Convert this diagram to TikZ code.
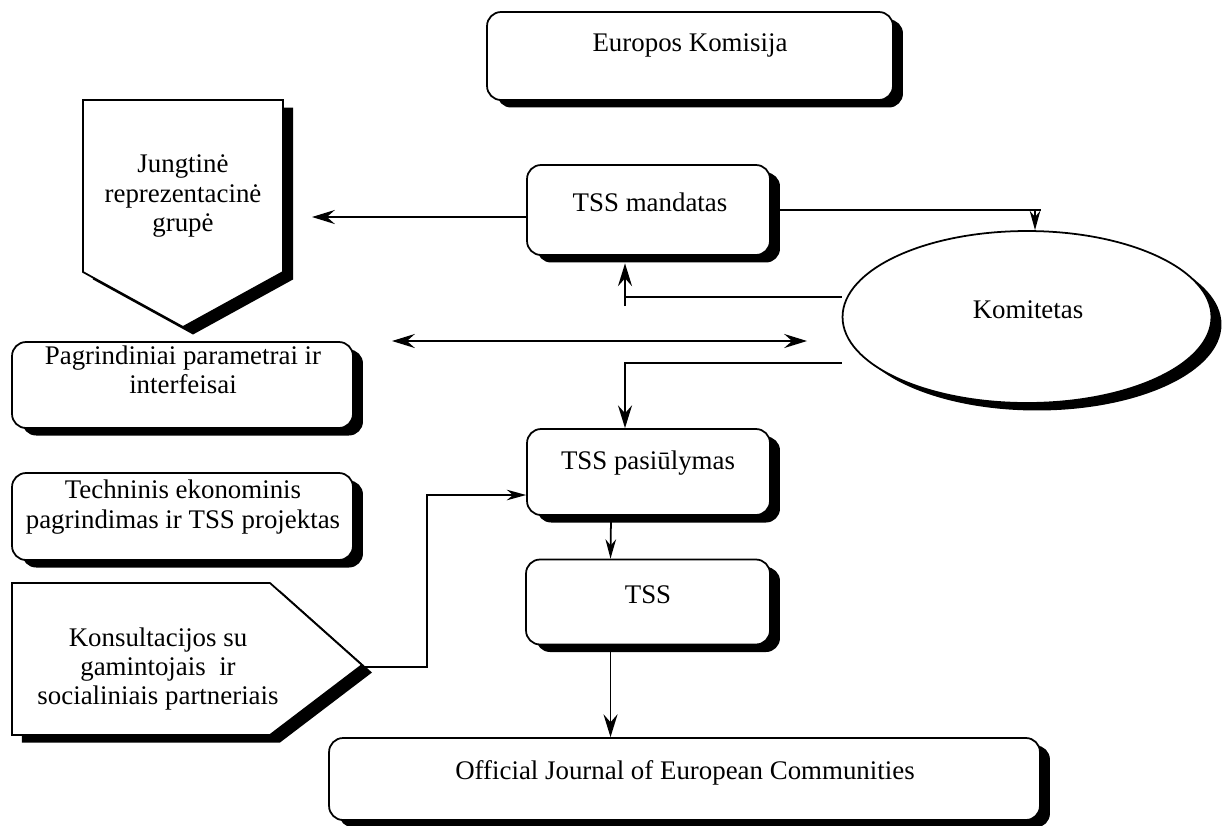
\documentclass[tikz,border=0pt]{standalone}
\usepackage{fontspec}
\setmainfont{Liberation Serif}
\usetikzlibrary{arrows.meta,shapes.geometric,shadows,calc}
\begin{document}
\begin{tikzpicture}[x=0.02cm,y=-0.02cm,line width=1pt,
    every node/.style={font=\fontsize{15.3}{16.6}\selectfont,align=center},
    >={Stealth[length=13pt,width=8pt,inset=4.5pt]},
    thin tip/.style={-{Stealth[length=11pt,width=6pt,inset=3.5pt]}},
    shade/.style={drop shadow={shadow xshift=0.2cm,shadow yshift=-0.15cm,fill=black,opacity=1}},
    panel/.style={draw,fill=white,rounded corners=0.28cm,inner sep=0pt,shade}]
    \useasboundingbox (0,0) rectangle (1222,825);
    % rounded boxes
    \node[panel,minimum width=8.12cm,minimum height=1.76cm] (ek) at (690,56) {};
    \node[panel,minimum width=4.86cm,minimum height=1.8cm] (mand) at (648.5,210) {};
    \node[panel,minimum width=4.86cm,minimum height=1.72cm] (pas) at (648.5,472) {};
    \node[panel,minimum width=4.88cm,minimum height=1.7cm] (tss) at (648,602) {};
    \node[panel,minimum width=14.22cm,minimum height=1.64cm] (jour) at (684.5,779) {};
    \node[panel,minimum width=6.82cm,minimum height=1.72cm] (pagr) at (182.5,385) {};
    \node[panel,minimum width=6.82cm,minimum height=1.74cm] (tech) at (182.5,516.5) {};
    \node[ellipse,draw,fill=white,shade,minimum width=7.38cm,minimum height=3.44cm] (kom) at (1027,317) {};
    % pointed shapes
    \draw[fill=white,shade] (83,100) -- (283,100) -- (283,272) -- (183,327) -- (83,272) -- cycle;
    \draw[fill=white,shade] (12,583) -- (270,583) -- (362,665) -- (270,735) -- (12,735) -- cycle;
    % texts
    \node (ek-t) at (690,45) {Europos Komisija};
    \node (mand-t) at (650,202) {TSS mandatas};
    \node (pas-t) at (648,463) {TSS pasiūlymas};
    \node (tss-t) at (648,595) {TSS};
    \node (jour-t) at (685,773) {Official Journal of European Communities};
    \node (pagr-t) at (183,370) {Pagrindiniai parametrai ir\\interfeisai};
    \node (tech-t) at (183,507) {Techninis ekonominis\\pagrindimas ir TSS projektas};
    \node (kom-t) at (1028,310) {Komitetas};
    \node (jung-t) at (183,196) {Jungtinė\\reprezentacinė\\grupė};
    \node (kons-t) at (158,669) {Konsultacijos su\\gamintojais\ \ ir\\socialiniais partneriais};
    % connectors
    \coordinate (jung-in) at (312,217);
    \coordinate (kom-in) at ([xshift=0.16cm]kom.north);
    \coordinate (kom-up) at ([yshift=0.4cm]kom.west);
    \coordinate (kom-dn) at ([yshift=-0.92cm]kom.west);
    \coordinate (tap) at (625,306);
    \coordinate (par-l) at (392,341);
    \coordinate (par-r) at (807,341);
    \coordinate (kons-tip) at (364,667);
    \coordinate (pas-in) at ([yshift=-0.46cm]pas.west);
    \draw[->] (jung-in -| mand.west) -- (jung-in);
    \draw (mand.east) -- ([xshift=0.12cm]mand.east -| kom-in);
    \draw[thin tip] (mand.east -| kom-in) -- (kom-in);
    \draw[->] (kom-up) -- (kom-up -| tap) -- ([yshift=-0.15cm]mand.south -| tap);
    \draw (tap) -- (kom-up -| tap);
    \draw[<->] (par-l) -- (par-r);
    \draw[->] (kom-dn) -| (pas.north -| tap);
    \draw[thin tip] (kons-tip) -| ($(pas-in)+(-99,0)$) -- (pas-in);
    \draw[thin tip] ([xshift=-0.75cm]pas.south) -- ([xshift=-0.75cm]tss.north);
    \draw[->] ([xshift=-0.75cm]tss.south) -- ([xshift=-0.75cm]tss.south |- jour.north);
\end{tikzpicture}
\end{document}
